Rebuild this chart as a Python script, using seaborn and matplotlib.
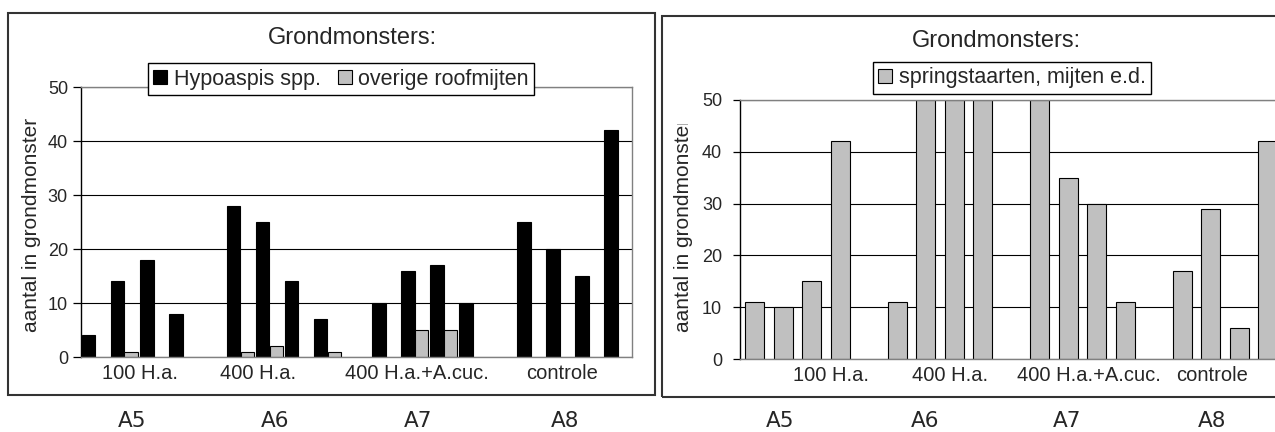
import matplotlib
matplotlib.use("Agg")
import matplotlib.pyplot as plt
from matplotlib.patches import Patch, Rectangle
from matplotlib.transforms import Bbox, TransformedBbox
import pandas as pd
import seaborn as sns

# data
groups = ["100 H.a.", "400 H.a.", "400 H.a.+A.cuc.", "controle"]
plots = ["A5", "A6", "A7", "A8"]
samples_per_group = 4

hypoaspis = [4, 14, 18, 8, 28, 25, 14, 7, 10, 16, 17, 10, 25, 20, 15, 42]
overige = [0, 1, 0, 0, 1, 2, 0, 1, 0, 5, 5, 0, 0, 0, 0, 0]
springstaarten = [11, 10, 15, 42, 11, 50, 50, 50, 50, 35, 30, 11, 17, 29, 6, 42]

series_left = ["Hypoaspis spp.", "overige roofmijten"]
series_right = "springstaarten, mijten e.d."
title = "Grondmonsters:"
ylabel = "aantal in grondmonster"
yticks = [0, 10, 20, 30, 40, 50]

W, H = 1275, 432
GRAY = "#c0c0c0"


def build_order():
    order, names = [], []
    for i, g in enumerate(groups):
        for k in range(samples_per_group):
            name = "{} #{}".format(g, k + 1)
            order.append(name)
            names.append(name)
        if i < len(groups) - 1:
            order.append("_gap{}".format(i))  # empty slot between groups
    return order, names


def style_axes(ax, ticklen, pad):
    ax.set_ylim(0, 50)
    ax.set_xlim(-0.5, 18.5)
    ax.set_yticks(yticks)
    ax.set_axisbelow(True)
    ax.yaxis.grid(True, color="black", linewidth=0.8)
    ax.xaxis.grid(False)
    for side in ["top", "right", "bottom"]:
        ax.spines[side].set_color("#808080")
        ax.spines[side].set_linewidth(1.0)
    ax.spines["left"].set_color("black")
    ax.spines["left"].set_linewidth(1.0)
    ax.tick_params(axis="y", direction="out", length=ticklen, width=0.9,
                   color="black", pad=pad, labelsize=13, left=True)
    ax.tick_params(axis="x", length=0, pad=5, labelsize=14.5)
    ax.set_xlabel("")
    for p in ax.patches:
        if p.get_height() == 0:
            p.set_linewidth(0)


def fig_frame(fig, x0, y0, x1, y1):
    fig.patches.append(Rectangle((x0 / W, 1 - y1 / H), (x1 - x0) / W,
                                 (y1 - y0) / H, transform=fig.transFigure,
                                 fill=False, edgecolor="#333333",
                                 linewidth=1.5, zorder=0))


def main():
    sns.set_style("white")
    plt.rcParams["font.family"] = ["Liberation Sans", "DejaVu Sans"]

    order, names = build_order()
    fig = plt.figure(figsize=(W / 100, H / 100), dpi=100)

    # ---------- left chart ----------
    ax1 = fig.add_axes([81 / W, (H - 357) / H, 551 / W, 270 / H])
    left_df = pd.DataFrame({
        "monster": names * 2,
        "reeks": [series_left[0]] * len(names) + [series_left[1]] * len(names),
        "aantal": hypoaspis + overige,
    })
    sns.barplot(data=left_df, x="monster", y="aantal", hue="reeks",
                order=order, hue_order=series_left,
                palette=["black", GRAY], width=0.9, saturation=1,
                errorbar=None, edgecolor="black", linewidth=0.8,
                legend=False, ax=ax1)
    style_axes(ax1, 5.8, 3.6)
    ax1.set_xticks([1.53, 5.6, 11.09, 16.09], groups)
    ax1.set_ylabel(ylabel, fontsize=15)
    ax1.yaxis.set_label_coords(-0.073, 0.49)
    h1 = [Patch(facecolor="black", edgecolor="black", linewidth=0.8),
          Patch(facecolor=GRAY, edgecolor="black", linewidth=0.8)]
    lg = ax1.legend(h1, series_left, loc="center", ncol=2,
                    bbox_to_anchor=(341 / W, 1 - 79 / H),
                    bbox_transform=fig.transFigure, fontsize=15.5,
                    handlelength=0.65, handleheight=0.65, handletextpad=0.3,
                    columnspacing=0.8, borderpad=0.25, fancybox=False,
                    framealpha=1, edgecolor="black")
    lg.get_frame().set_linewidth(1.0)
    lg.set_zorder(10)
    fig.text(352 / W, 1 - 38 / H, title, ha="center", va="center",
             fontsize=17)

    # ---------- right chart ----------
    ax2 = fig.add_axes([740.25 / W, (H - 359) / H, 541.5 / W, 259 / H])
    sns.barplot(x=names, y=springstaarten, order=order, color=GRAY,
                width=2 / 3, saturation=1, errorbar=None, edgecolor="black",
                linewidth=0.8, ax=ax2)
    style_axes(ax2, 5.0, 8.0)
    ax2.set_xticks([2.67, 6.86, 11.72, 16.05], groups)
    ax2.set_ylabel(ylabel, fontsize=15)
    ax2.yaxis.set_label_coords(-0.088, 0.517)
    # the reference cuts off the top of this label
    lab = ax2.yaxis.label
    lab.set_clip_on(True)
    lab.set_clip_box(TransformedBbox(Bbox([[0, 0], [1, 1 - 124 / H]]),
                                     fig.transFigure))
    h2 = [Patch(facecolor=GRAY, edgecolor="black", linewidth=0.8)]
    lg2 = ax2.legend(h2, [series_right], loc="center",
                     bbox_to_anchor=(1012 / W, 1 - 78 / H),
                     bbox_transform=fig.transFigure, fontsize=15.5,
                     handlelength=0.65, handleheight=0.65, handletextpad=0.3,
                     borderpad=0.25, fancybox=False, framealpha=1,
                     edgecolor="black")
    lg2.get_frame().set_linewidth(1.0)
    lg2.set_zorder(10)
    fig.text(996 / W, 1 - 41 / H, title, ha="center", va="center",
             fontsize=17)

    # outer chart frames
    fig_frame(fig, 8, 13, 655, 395)
    fig_frame(fig, 662, 16, 1400, 397)

    # plot codes under the frames
    for name, xl, xr in zip(plots, [132, 275, 418, 565],
                            [780, 925, 1067, 1212]):
        for xp in (xl, xr):
            fig.text(xp / W, 1 - 421 / H, name, ha="center", va="center",
                     fontsize=15.5, family=["DejaVu Sans"])

    fig.savefig("out.png", dpi=100)
    plt.close(fig)


if __name__ == "__main__":
    main()
